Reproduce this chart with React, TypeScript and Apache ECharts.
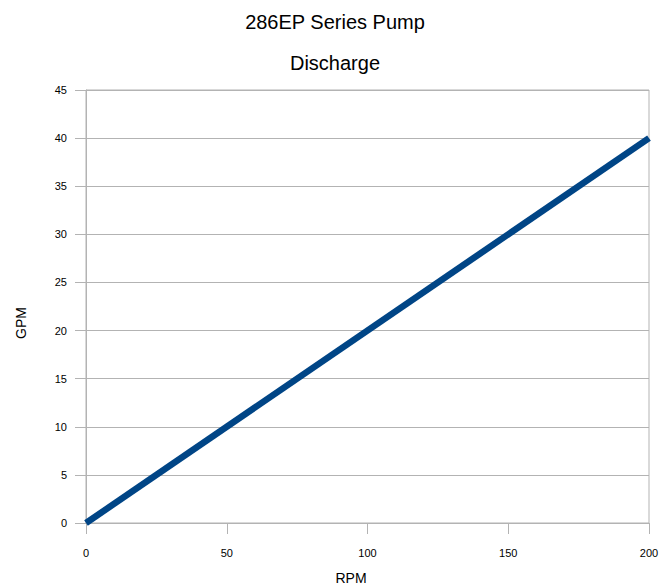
import React, { useEffect, useRef } from "react";
import * as echarts from "echarts";

const titleText = "286EP Series Pump";
const subtitleText = "Discharge";
const xAxisName = "RPM";
const yAxisName = "GPM";
const rpm = [0, 200];
const gpm = [0, 40];

export default function App() {
  const ref = useRef<HTMLDivElement>(null);
  useEffect(() => {
    if (!ref.current) return;
    const chart = echarts.init(ref.current, undefined, { renderer: "svg" });
    const font = "'Liberation Sans', Arial, sans-serif";
    const gray = "#b3b3b3";
    chart.setOption({
      animation: false,
      backgroundColor: "#ffffff",
      graphic: [
        {
          type: "text",
          x: 335,
          y: 22,
          style: {
            text: titleText,
            fontSize: 20,
            fontFamily: font,
            fill: "#000",
            textAlign: "center",
            textVerticalAlign: "middle",
          },
        },
        {
          type: "text",
          x: 335,
          y: 63,
          style: {
            text: subtitleText,
            fontSize: 20,
            fontFamily: font,
            fill: "#000",
            textAlign: "center",
            textVerticalAlign: "middle",
          },
        },
        {
          type: "text",
          x: 351,
          y: 578,
          style: {
            text: xAxisName,
            fontSize: 14,
            fontFamily: font,
            fill: "#000",
            textAlign: "center",
            textVerticalAlign: "middle",
          },
        },
        {
          type: "text",
          x: 21,
          y: 323,
          rotation: Math.PI / 2,
          style: {
            text: yAxisName,
            fontSize: 14,
            fontFamily: font,
            fill: "#000",
            textAlign: "center",
            textVerticalAlign: "middle",
          },
        },
      ],
      grid: {
        left: 86,
        right: 16,
        top: 90,
        bottom: 63,
        show: true,
        borderColor: gray,
        borderWidth: 1,
        backgroundColor: "transparent",
      },
      xAxis: {
        type: "value",
        min: 0,
        max: 200,
        interval: 50,
        axisLine: { show: true, lineStyle: { color: gray, width: 1 } },
        axisTick: { show: true, inside: false, length: 11, lineStyle: { color: gray } },
        splitLine: { show: false },
        axisLabel: { margin: 24, fontSize: 11, fontFamily: font, color: "#000" },
      },
      yAxis: {
        type: "value",
        min: 0,
        max: 45,
        interval: 5,
        axisLine: { show: true, lineStyle: { color: gray, width: 1 } },
        axisTick: { show: true, inside: false, length: 11, lineStyle: { color: gray } },
        splitLine: { show: true, lineStyle: { color: gray, width: 1 } },
        axisLabel: { margin: 19, fontSize: 11, fontFamily: font, color: "#000" },
      },
      series: [
        {
          type: "line",
          data: rpm.map((x, i) => [x, gpm[i]]),
          showSymbol: false,
          symbol: "none",
          lineStyle: { color: "#004586", width: 6.5 },
          silent: true,
        },
      ],
    });
    return () => chart.dispose();
  }, []);
  return <div ref={ref} style={{ width: 665, height: 586, position: "absolute", left: 0, top: 0 }} />;
}
